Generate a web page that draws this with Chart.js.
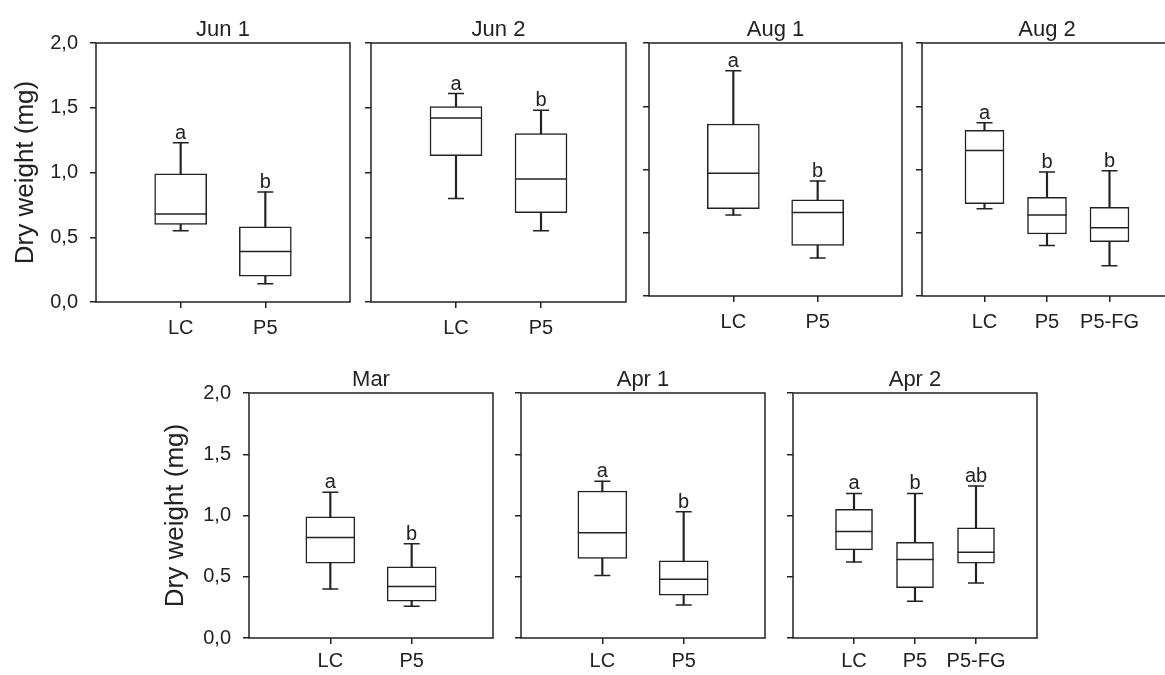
<!DOCTYPE html>
<html>
<head>
<meta charset="utf-8">
<script src="https://cdn.jsdelivr.net/npm/chart.js@4.4.0/dist/chart.umd.min.js"></script>
<style>
  html, body { margin: 0; padding: 0; background: #fff; overflow: hidden; }
  #wrap { position: relative; width: 1165px; height: 675px; overflow: hidden; }
  .panel { position: absolute; }
</style>
</head>
<body>
<div id="wrap"></div>
<script>
// ── Data (dry weight, mg) ──────────────────────────────────────────────────
const titles = ["Jun 1", "Jun 2", "Aug 1", "Aug 2", "Mar", "Apr 1", "Apr 2"];
const groups = [
  ["LC", "P5"], ["LC", "P5"], ["LC", "P5"], ["LC", "P5", "P5-FG"],
  ["LC", "P5"], ["LC", "P5"], ["LC", "P5", "P5-FG"],
];
const whiskerLow  = [[0.55, 0.14], [0.80, 0.55], [0.64, 0.30], [0.69, 0.40, 0.24], [0.40, 0.26], [0.51, 0.27], [0.62, 0.30, 0.45]];
const q1          = [[0.60, 0.20], [1.13, 0.69], [0.69, 0.40], [0.73, 0.49, 0.43], [0.61, 0.30], [0.65, 0.35], [0.72, 0.41, 0.61]];
const median      = [[0.68, 0.39], [1.42, 0.95], [0.97, 0.66], [1.15, 0.64, 0.54], [0.82, 0.42], [0.86, 0.48], [0.87, 0.64, 0.70]];
const q3          = [[0.99, 0.58], [1.51, 1.30], [1.36, 0.76], [1.31, 0.78, 0.70], [0.99, 0.58], [1.20, 0.63], [1.05, 0.78, 0.90]];
const whiskerHigh = [[1.23, 0.85], [1.61, 1.48], [1.78, 0.91], [1.37, 0.98, 0.99], [1.19, 0.77], [1.28, 1.03], [1.18, 1.18, 1.24]];
const letters     = [["a", "b"], ["a", "b"], ["a", "b"], ["a", "b", "b"], ["a", "b"], ["a", "b"], ["a", "b", "ab"]];
const yTicks = [0, 0.5, 1.0, 1.5, 2.0];

// Plot-area edges of each panel on the page
const FRAMES = [
  { left: 96,  right: 354,  top: 43,  bottom: 302, labels: true,  boxW: 52 },
  { left: 371, right: 630,  top: 43,  bottom: 302, labels: false, boxW: 52 },
  { left: 649, right: 906,  top: 43,  bottom: 296, labels: false, boxW: 52 },
  { left: 922, right: 1176, top: 43,  bottom: 296, labels: false, boxW: 39 },
  { left: 249, right: 494,  top: 393, bottom: 638, labels: true,  boxW: 49 },
  { left: 521, right: 766,  top: 393, bottom: 638, labels: false, boxW: 49 },
  { left: 793, right: 1038, top: 393, bottom: 638, labels: false, boxW: 37 },
];

const INK = "#222";
const FONT = "'Liberation Sans', Arial, sans-serif";

// Frame around the plot area
const framePlugin = {
  id: "frame",
  afterDraw(chart) {
    const { ctx, chartArea: a } = chart;
    ctx.save();
    ctx.strokeStyle = INK;
    ctx.lineWidth = 1.5;
    ctx.strokeRect(a.left, a.top, a.right - a.left, a.bottom - a.top);
    ctx.restore();
  },
};

// Significance letters above the upper whisker
const letterPlugin = {
  id: "letters",
  afterDatasetsDraw(chart, args, opts) {
    const { ctx, scales: { x, y } } = chart;
    ctx.save();
    ctx.font = `20px ${FONT}`;
    ctx.fillStyle = INK;
    ctx.textAlign = "center";
    ctx.textBaseline = "alphabetic";
    opts.letters.forEach((t, k) => {
      ctx.fillText(t, x.getPixelForValue(k + 1), y.getPixelForValue(opts.high[k]) - 4);
    });
    ctx.restore();
  },
};

function makePanel(i) {
  const f = FRAMES[i];
  const yW = f.labels ? 96 : 12;
  const topRow = f.top < 200;
  const rowTop = f.top - 43;
  const canvasBottom = topRow ? 345 : 675;
  const W = yW + (f.right - f.left) + 4;
  const H = canvasBottom - rowTop;
  const xH = canvasBottom - f.bottom;

  const cats = ["", ...groups[i], ""];
  const pad = (arr) => [null, ...arr, null];

  const div = document.createElement("div");
  div.className = "panel";
  div.style.left = (f.left - yW) + "px";
  div.style.top = rowTop + "px";
  const canvas = document.createElement("canvas");
  canvas.width = W;
  canvas.height = H;
  canvas.style.width = W + "px";
  canvas.style.height = H + "px";
  div.appendChild(canvas);
  document.getElementById("wrap").appendChild(div);

  const g = groups[i];
  const caps = g.flatMap((c, k) => [{ x: c, y: whiskerLow[i][k] }, { x: c, y: whiskerHigh[i][k] }]);
  const meds = g.map((c, k) => ({ x: c, y: median[i][k] }));

  new Chart(canvas.getContext("2d"), {
    type: "bar",
    data: {
      labels: cats,
      datasets: [
        {
          label: "whisker",
          data: pad(g.map((c, k) => [whiskerLow[i][k], whiskerHigh[i][k]])),
          backgroundColor: INK,
          barThickness: 1.5,
          grouped: false,
          order: 3,
        },
        {
          label: "box",
          data: pad(g.map((c, k) => [q1[i][k], q3[i][k]])),
          backgroundColor: "#fff",
          borderColor: INK,
          borderWidth: 1.5,
          borderSkipped: false,
          barThickness: f.boxW,
          grouped: false,
          order: 2,
        },
        {
          type: "line",
          label: "caps",
          data: caps,
          showLine: false,
          pointStyle: "line",
          pointRadius: 8,
          borderColor: INK,
          borderWidth: 1.5,
          order: 1,
        },
        {
          type: "line",
          label: "median",
          data: meds,
          showLine: false,
          pointStyle: "line",
          pointRadius: f.boxW / 2,
          borderColor: INK,
          borderWidth: 1.5,
          order: 1,
        },
      ],
    },
    options: {
      responsive: false,
      animation: false,
      events: [],
      layout: { autoPadding: false, padding: { left: 0, right: 4, top: 0, bottom: 0 } },
      plugins: {
        legend: { display: false },
        tooltip: { enabled: false },
        title: {
          display: true,
          fullSize: false,
          text: titles[i],
          color: INK,
          font: { family: FONT, size: 22, weight: "normal", lineHeight: 1 },
          padding: { top: 19, bottom: 2 },
        },
        letters: { letters: letters[i], high: whiskerHigh[i] },
      },
      scales: {
        x: {
          type: "category",
          offset: false,
          border: { display: false },
          grid: {
            offset: false,
            drawOnChartArea: false,
            drawTicks: true,
            tickLength: 6,
            lineWidth: 1.5,
            color: (c) => (c.index === 0 || c.index === cats.length - 1 ? "rgba(0,0,0,0)" : INK),
          },
          ticks: {
            color: INK,
            font: { family: FONT, size: 20 },
            padding: topRow ? 8 : 5,
            maxRotation: 0,
            autoSkip: false,
          },
          afterFit: (s) => { s.height = xH; },
        },
        y: {
          min: 0,
          max: 2,
          border: { display: false },
          grid: {
            drawOnChartArea: false,
            drawTicks: true,
            tickLength: 6,
            lineWidth: 1.5,
            color: INK,
          },
          afterBuildTicks: (s) => { s.ticks = yTicks.map((v) => ({ value: v })); },
          ticks: {
            display: f.labels,
            color: INK,
            font: { family: FONT, size: 20 },
            padding: 12,
            callback: (v) => v.toFixed(1).replace(".", ","),
          },
          title: {
            display: f.labels,
            text: "Dry weight (mg)",
            color: INK,
            font: { family: FONT, size: 26, lineHeight: 1 },
            padding: { top: topRow ? 13 : 10, bottom: 0 },
          },
          afterFit: (s) => { s.width = yW; },
        },
      },
    },
    plugins: [framePlugin, letterPlugin],
  });
}

titles.forEach((t, i) => makePanel(i));
</script>
</body>
</html>
